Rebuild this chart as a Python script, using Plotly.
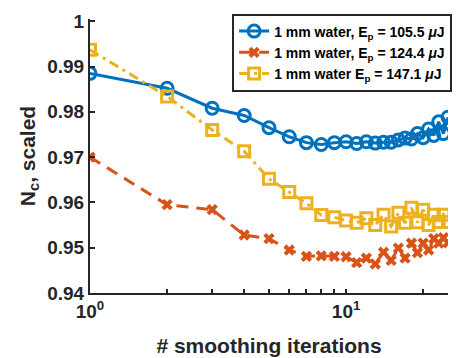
import plotly.graph_objects as go

# smoothing iteration counts
iterations = list(range(1, 26))

# scaled N_c for each pulse energy
nc_105 = [0.9885, 0.9852, 0.9808, 0.9792, 0.9765, 0.9745, 0.9732, 0.9728, 0.9732, 0.9734,
          0.9730, 0.9734, 0.9731, 0.9733, 0.9733, 0.9738, 0.9742, 0.9740, 0.9752, 0.9743,
          0.9762, 0.9748, 0.9778, 0.9752, 0.9788]
nc_124 = [0.9700, 0.9595, 0.9584, 0.9528, 0.9520, 0.9495, 0.9481, 0.9482, 0.9481, 0.9480,
          0.9467, 0.9477, 0.9464, 0.9490, 0.9472, 0.9499, 0.9477, 0.9510, 0.9489, 0.9510,
          0.9495, 0.9520, 0.9510, 0.9522, 0.9511]
nc_147 = [0.9937, 0.9834, 0.9760, 0.9713, 0.9652, 0.9623, 0.9598, 0.9572, 0.9567, 0.9560,
          0.9555, 0.9565, 0.9550, 0.9573, 0.9547, 0.9577, 0.9555, 0.9588, 0.9556, 0.9584,
          0.9550, 0.9573, 0.9557, 0.9573, 0.9557]

series_names = [
    "1 mm water, E<sub>p</sub> = 105.5 <i>μ</i>J",
    "1 mm water, E<sub>p</sub> = 124.4 <i>μ</i>J",
    "1 mm water E<sub>p</sub> = 147.1 <i>μ</i>J",
]

x_tickvals = [1, 10]
x_ticktext = ["10<sup>0</sup>", "10<sup>1</sup>"]
x_minor_tickvals = [2, 3, 4, 5, 6, 7, 8, 9, 20]
y_tickvals = [0.94, 0.95, 0.96, 0.97, 0.98, 0.99, 1.0]
y_ticktext = ["0.94", "0.95", "0.96", "0.97", "0.98", "0.99", "1"]

blue = "#0072BD"
red = "#D95319"
yellow = "#EDB120"
ink = "#262626"
family = "Liberation Sans, Arial, sans-serif"

fig = go.Figure()
fig.add_trace(go.Scatter(
    x=iterations, y=nc_105, name=series_names[0], mode="lines+markers",
    line=dict(color=blue, width=3),
    marker=dict(symbol="circle-open", size=12, color=blue, line=dict(width=3, color=blue)),
))
fig.add_trace(go.Scatter(
    x=iterations, y=nc_124, name=series_names[1], mode="lines+markers",
    line=dict(color=red, width=3, dash="12px,8px"),
    marker=dict(symbol="x", size=10, color=red, line=dict(width=0)),
))
fig.add_trace(go.Scatter(
    x=iterations, y=nc_147, name=series_names[2], mode="lines+markers",
    line=dict(color=yellow, width=3, dash="10px,5px,3px,5px"),
    marker=dict(symbol="square-open", size=11, color=yellow, line=dict(width=3, color=yellow)),
))

fig.update_layout(
    width=461, height=358,
    margin=dict(l=90, r=13, t=19, b=65, autoexpand=False),
    paper_bgcolor="white", plot_bgcolor="white",
    font=dict(family=family, color=ink),
    showlegend=True,
    legend=dict(
        x=0.397, y=1.02, xanchor="left", yanchor="top",
        bgcolor="white", bordercolor=ink, borderwidth=2,
        font=dict(family=family, size=14, color="black", weight="bold"),
        tracegroupgap=0, itemwidth=30,
    ),
    xaxis=dict(
        type="log", range=[0, 1.398],
        tickvals=x_tickvals, ticktext=x_ticktext,
        ticks="inside", ticklen=4, tickwidth=1.5, tickcolor=ink,
        minor=dict(tickvals=x_minor_tickvals, ticks="inside", ticklen=4, tickwidth=1.5, tickcolor=ink),
        showline=True, linecolor=ink, linewidth=2, mirror=False,
        showgrid=False, zeroline=False,
        tickfont=dict(family=family, size=19, color=ink, weight="bold"),
        title=dict(text="# smoothing iterations", standoff=18,
                   font=dict(family=family, size=21, color=ink, weight="bold")),
    ),
    yaxis=dict(
        range=[0.94, 1.0005],
        tickvals=y_tickvals, ticktext=y_ticktext,
        ticks="inside", ticklen=5, tickwidth=1.5, tickcolor=ink,
        showline=True, linecolor=ink, linewidth=2, mirror=False,
        showgrid=False, zeroline=False,
        tickfont=dict(family=family, size=19, color=ink, weight="bold"),
        title=dict(text="N<sub>c</sub>, scaled", standoff=6,
                   font=dict(family=family, size=21, color=ink, weight="bold")),
    ),
)

fig.write_html("out.html")
